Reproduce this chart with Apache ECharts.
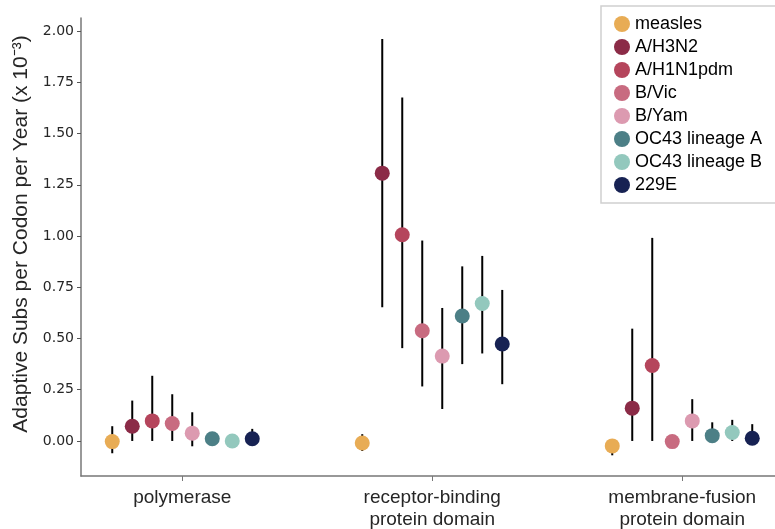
<!DOCTYPE html>
<html>
<head>
<meta charset="utf-8">
<script src="https://cdn.jsdelivr.net/npm/echarts@6/dist/echarts.min.js"></script>
<style>html,body{margin:0;padding:0;background:#fff;}#c{width:775px;height:529px;}</style>
</head>
<body>
<div id="c"></div>
<script>
var categories = ['polymerase', 'receptor-binding\nprotein domain', 'membrane-fusion\nprotein domain'];
var seriesNames = ['measles', 'A/H3N2', 'A/H1N1pdm', 'B/Vic', 'B/Yam', 'OC43 lineage A', 'OC43 lineage B', '229E'];
var colors = ['#E8AC55', '#8B2B47', '#B5455C', '#C86B80', '#DC9AB0', '#4C7F86', '#93C8BD', '#172253'];
var yTicks = [0, 0.25, 0.5, 0.75, 1.0, 1.25, 1.5, 1.75, 2.0];

// values per series: [polymerase, receptor-binding, membrane-fusion]
var measles     = [-0.003, -0.010, -0.024];
var h3n2        = [0.072, 1.307, 0.160];
var h1n1pdm     = [0.098, 1.006, 0.368];
var bvic        = [0.085, 0.538, -0.003];
var byam        = [0.038, 0.414, 0.098];
var oc43a       = [0.011, 0.610, 0.026];
var oc43b       = [0.000, 0.671, 0.041];
var e229        = [0.011, 0.473, 0.013];

// lower / upper CI per series
var measlesLo = [-0.060, -0.049, -0.070], measlesHi = [0.072, 0.033, 0.005];
var h3n2Lo    = [0.000, 0.652, 0.000],   h3n2Hi    = [0.197, 1.961, 0.548];
var h1n1Lo    = [0.000, 0.453, 0.000],   h1n1Hi    = [0.318, 1.676, 0.991];
var bvicLo    = [0.000, 0.266, -0.010],  bvicHi    = [0.228, 0.978, 0.004];
var byamLo    = [-0.026, 0.156, 0.000],  byamHi    = [0.140, 0.649, 0.204];
var oc43aLo   = [0.000, 0.375, 0.000],   oc43aHi   = [0.030, 0.852, 0.091];
var oc43bLo   = [-0.010, 0.427, 0.000],  oc43bHi   = [0.010, 0.903, 0.103];
var e229Lo    = [0.000, 0.277, 0.000],   e229Hi    = [0.059, 0.737, 0.082];

var values = [measles, h3n2, h1n1pdm, bvic, byam, oc43a, oc43b, e229];
var lows = [measlesLo, h3n2Lo, h1n1Lo, bvicLo, byamLo, oc43aLo, oc43bLo, e229Lo];
var highs = [measlesHi, h3n2Hi, h1n1Hi, bvicHi, byamHi, oc43aHi, oc43bHi, e229Hi];

var dodge = 0.08;
var n = seriesNames.length;
function xPos(cat, s) { return cat + (s - (n - 1) / 2) * dodge; }

var series = [];
var errData = [];
for (var s = 0; s < n; s++) {
  for (var c = 0; c < categories.length; c++) {
    errData.push([xPos(c, s), lows[s][c], highs[s][c]]);
  }
}
series.push({
  type: 'custom',
  name: 'err',
  z: 1,
  silent: true,
  data: errData,
  renderItem: function (params, api) {
    var p1 = api.coord([api.value(0), api.value(1)]);
    var p2 = api.coord([api.value(0), api.value(2)]);
    return { type: 'line', shape: { x1: p1[0], y1: p1[1], x2: p2[0], y2: p2[1] },
      style: { stroke: '#000', lineWidth: 2 } };
  }
});
for (var s2 = 0; s2 < n; s2++) {
  var d = [];
  for (var c2 = 0; c2 < categories.length; c2++) d.push([xPos(c2, s2), values[s2][c2]]);
  series.push({
    type: 'scatter', name: seriesNames[s2], z: 5, data: d,
    symbol: 'circle', symbolSize: 15,
    itemStyle: { color: colors[s2], opacity: 1 }
  });
}

var chart = echarts.init(document.getElementById('c'));
chart.setOption({
  animation: false,
  backgroundColor: '#fff',
  color: colors,
  grid: { left: 81, top: 18, right: 0, bottom: 53, containLabel: false, outerBoundsMode: 'none' },
  legend: {
    data: seriesNames,
    orient: 'vertical',
    left: 601, top: 6,
    icon: 'circle',
    itemWidth: 16, itemHeight: 16, itemGap: 5,
    padding: [9, 30, 9, 13],
    borderColor: '#d0d0d0', borderWidth: 1.5,
    backgroundColor: '#fff',
    textStyle: { fontFamily: 'Liberation Sans, Arial, sans-serif', fontSize: 18, color: '#000', lineHeight: 18 }
  },
  xAxis: {
    type: 'value', min: -0.405, max: 2.371,
    splitLine: { show: false },
    axisLine: { onZero: false, lineStyle: { color: '#777', width: 1.5 } },
    axisTick: { show: true, customValues: [0, 1, 2], length: 5, lineStyle: { color: '#777' } },
    axisLabel: {
      customValues: [0, 1, 2],
      formatter: function (v) { return categories[Math.round(v)]; },
      fontFamily: 'Liberation Sans, Arial, sans-serif', fontSize: 19, color: '#262626',
      margin: 11, lineHeight: 22
    }
  },
  yAxis: {
    type: 'value', min: -0.171, max: 2.064,
    name: 'Adaptive Subs per Codon per Year (x 10\u207B\u00B3)',
    nameLocation: 'middle', nameGap: 48, nameRotate: 90,
    nameTextStyle: { fontFamily: 'Liberation Sans, Arial, sans-serif', fontSize: 21, color: '#262626', padding: [0, 0, 0, 26] },
    splitLine: { show: false },
    axisLine: { show: true, onZero: false, lineStyle: { color: '#777', width: 1.5 } },
    axisTick: { show: true, customValues: yTicks, length: 4, lineStyle: { color: '#555' } },
    axisLabel: {
      customValues: yTicks,
      formatter: function (v) { return v.toFixed(2); },
      fontFamily: 'DejaVu Sans, sans-serif', fontSize: 14, color: '#262626', margin: 7
    }
  },
  series: series
});
</script>
</body>
</html>
